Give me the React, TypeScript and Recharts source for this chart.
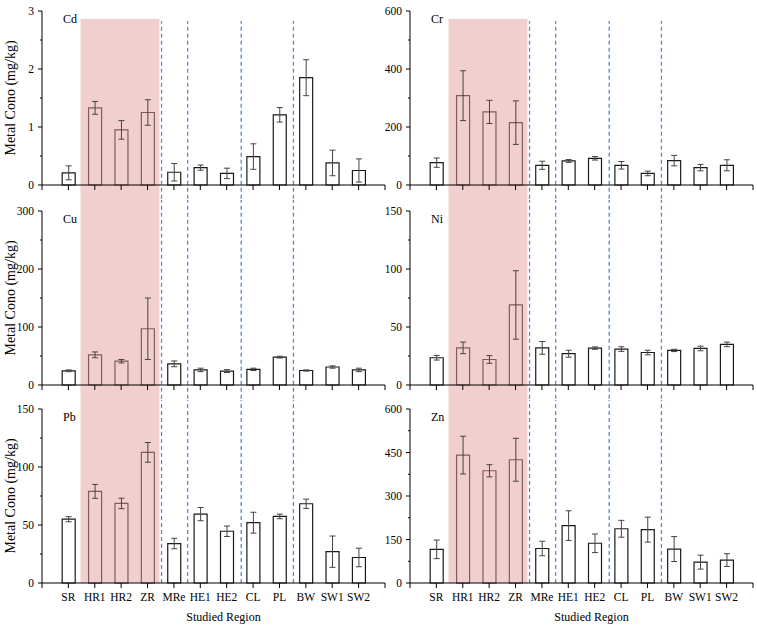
import React from 'react';
import { BarChart, Bar, XAxis, YAxis, ErrorBar, ReferenceArea, ReferenceLine } from 'recharts';

const regions = ['SR', 'HR1', 'HR2', 'ZR', 'MRe', 'HE1', 'HE2', 'CL', 'PL', 'BW', 'SW1', 'SW2'];
const xTicks = [0, 1, 2, 3, 4, 5, 6, 7, 8, 9, 10, 11, 12, 13];

const cdMean = [0.21, 1.33, 0.95, 1.25, 0.22, 0.3, 0.2, 0.49, 1.21, 1.85, 0.38, 0.25];
const cdErr = [0.12, 0.11, 0.16, 0.22, 0.15, 0.045, 0.09, 0.22, 0.125, 0.31, 0.22, 0.2];
const cdTicks = [0, 0.5, 1, 1.5, 2, 2.5, 3];
const cdMajor = [0, 1, 2, 3];

const crMean = [77, 308, 252, 215, 68, 83, 92, 68, 40, 84, 60, 68];
const crErr = [16, 86, 40, 75, 14, 5, 6, 13, 8, 18, 11, 19];
const crTicks = [0, 100, 200, 300, 400, 500, 600];
const crMajor = [0, 200, 400, 600];

const cuMean = [24.5, 52, 41, 97, 36.5, 26, 24, 27, 48, 25, 31, 26];
const cuErr = [1.5, 5, 3, 53, 5, 3, 2.5, 2, 1.5, 1, 2, 3];
const cuTicks = [0, 50, 100, 150, 200, 250, 300];
const cuMajor = [0, 100, 200, 300];

const niMean = [23.5, 32, 22, 69, 32, 27, 31.8, 31, 28, 29.8, 31.5, 35];
const niErr = [2, 5, 3.3, 29.5, 5.5, 3, 1, 2, 2, 1, 2, 2];
const niTicks = [0, 25, 50, 75, 100, 125, 150];
const niMajor = [0, 50, 100, 150];

const pbMean = [55, 79, 68.6, 112.6, 34, 59.4, 44.6, 52, 57.4, 68.3, 27, 22];
const pbErr = [2.2, 6, 4.5, 8.5, 4.5, 5.7, 4.5, 9, 2, 4, 13.5, 8];
const pbTicks = [0, 25, 50, 75, 100, 125, 150];
const pbMajor = [0, 50, 100, 150];

const znMean = [116, 441, 387, 425, 119, 198, 137, 187, 184, 117, 72, 79];
const znErr = [32, 65, 21, 74, 25, 51, 32, 29, 43, 43, 24, 22];
const znTicks = [0, 75, 150, 225, 300, 375, 450, 525, 600];
const znMajor = [0, 150, 300, 450, 600];

// highlighted zone (HR1..ZR) and dashed group dividers, in x-axis units
const zoneStart = 1.46;
const zoneEnd = 4.45;
const dividers = [4.53, 5.52, 7.55, 9.53];

const FONT = '"Liberation Serif", "Times New Roman", Times, serif';
const txt = { fontFamily: FONT };

const YTick = (props: any) => {
  const { x, y, payload, majors } = props;
  const isMajor = majors.includes(payload.value);
  const ax = x + 8;
  return (
    <g>
      <line x1={ax - (isMajor ? 4 : 2)} x2={ax} y1={y} y2={y} stroke="#000" strokeWidth={1} />
      {isMajor && (
        <text x={x} y={y} textAnchor="end" dominantBaseline="central" fontSize={11.5} fill="#000" style={txt}>
          {payload.value}
        </text>
      )}
    </g>
  );
};

const XTick = (props: any) => {
  const { x, y, payload, show } = props;
  const v = payload.value;
  if (!show || v < 1 || v > 12) return null;
  return (
    <text x={x} y={y} dy="0.71em" textAnchor="middle" fontSize={11.5} fill="#000" style={txt}>
      {regions[v - 1]}
    </text>
  );
};

const YTitle = (props: any) => {
  const vb = props.viewBox || {};
  const cy = vb.y + vb.height / 2;
  return (
    <text x={10} y={cy} transform={`rotate(-90 10 ${cy})`} textAnchor="middle" dominantBaseline="central" fontSize={14} fill="#000" style={txt}>
      Metal Cono (mg/kg)
    </text>
  );
};

const XTitle = (props: any) => {
  const vb = props.viewBox || {};
  const cx = vb.x + vb.width / 2 + 10;
  return (
    <text x={cx} y={vb.y + vb.height - 7} textAnchor="middle" fontSize={12} fill="#000" style={txt}>
      Studied Region
    </text>
  );
};

type PanelProps = {
  metal: string;
  mean: number[];
  err: number[];
  ticks: number[];
  majors: number[];
  left: number;
  top: number;
  col: number;
  row: number;
};

const Panel = ({ metal, mean, err, ticks, majors, left, top, col, row }: PanelProps) => {
  const data = regions.map((r, i) => ({ pos: i + 1, name: r, mean: mean[i], err: err[i] }));
  const max = ticks[ticks.length - 1];
  const width = col === 0 ? 395 : 377;
  const yW = col === 0 ? 42 : 30;
  const mTop = row === 2 ? 9 : 11;
  const xH = row === 2 ? 45 : 15;
  const height = mTop + 174 + xH;
  const zoneTop = row === 0 ? max * 0.954 : max * 1.2;
  const lineTop = row === 0 ? max * 0.943 : max * 1.2;
  const bottom = row === 2 ? 0 : -max * 0.2;
  return (
    <div style={{ position: 'absolute', left, top }}>
      <BarChart width={width} height={height} data={data} margin={{ top: mTop, right: col === 0 ? 10 : 4, bottom: 0, left: 0 }}>
        <XAxis
          type="number"
          dataKey="pos"
          domain={[0, 13]}
          ticks={xTicks}
          interval={0}
          height={xH}
          tickSize={5}
          tickMargin={5}
          stroke="#000"
          tick={<XTick show={row === 2} />}
          label={row === 2 ? { content: <XTitle /> } : undefined}
        />
        <YAxis
          type="number"
          domain={[0, max]}
          ticks={ticks}
          interval={0}
          width={yW}
          tickSize={0}
          tickMargin={8}
          stroke="#000"
          tick={<YTick majors={majors} />}
          label={col === 0 ? { content: <YTitle /> } : undefined}
        />
        <Bar dataKey="mean" barSize={13} fill="none" stroke="#1a1a1a" strokeWidth={1.2} isAnimationActive={false}>
          <ErrorBar dataKey="err" width={3} stroke="#444" strokeWidth={1} direction="y" isAnimationActive={false} />
        </Bar>
        <ReferenceArea
          x1={zoneStart}
          x2={zoneEnd}
          y1={bottom}
          y2={zoneTop}
          ifOverflow="visible"
          fill="#e59f9f"
          fillOpacity={0.5}
          stroke="none"
          zIndex={350}
        />
        {dividers.map((d) => (
          <ReferenceLine
            key={d}
            segment={[
              { x: d, y: bottom },
              { x: d, y: lineTop },
            ]}
            ifOverflow="visible"
            stroke="#5b8bc8"
            strokeWidth={1.3}
            strokeDasharray="4 3"
          />
        ))}
        <text x={yW + 21} y={mTop + 12} fontSize={12} fill="#000" style={txt}>
          {metal}
        </text>
      </BarChart>
    </div>
  );
};

const App = () => {
  return (
    <div style={{ position: 'absolute', left: 0, top: 0, width: 757, height: 628, background: '#fff', fontFamily: FONT }}>
      <Panel metal="Cd" mean={cdMean} err={cdErr} ticks={cdTicks} majors={cdMajor} left={0} top={0} col={0} row={0} />
      <Panel metal="Cr" mean={crMean} err={crErr} ticks={crTicks} majors={crMajor} left={380} top={0} col={1} row={0} />
      <Panel metal="Cu" mean={cuMean} err={cuErr} ticks={cuTicks} majors={cuMajor} left={0} top={200} col={0} row={1} />
      <Panel metal="Ni" mean={niMean} err={niErr} ticks={niTicks} majors={niMajor} left={380} top={200} col={1} row={1} />
      <Panel metal="Pb" mean={pbMean} err={pbErr} ticks={pbTicks} majors={pbMajor} left={0} top={400} col={0} row={2} />
      <Panel metal="Zn" mean={znMean} err={znErr} ticks={znTicks} majors={znMajor} left={380} top={400} col={1} row={2} />
    </div>
  );
};

export default App;
